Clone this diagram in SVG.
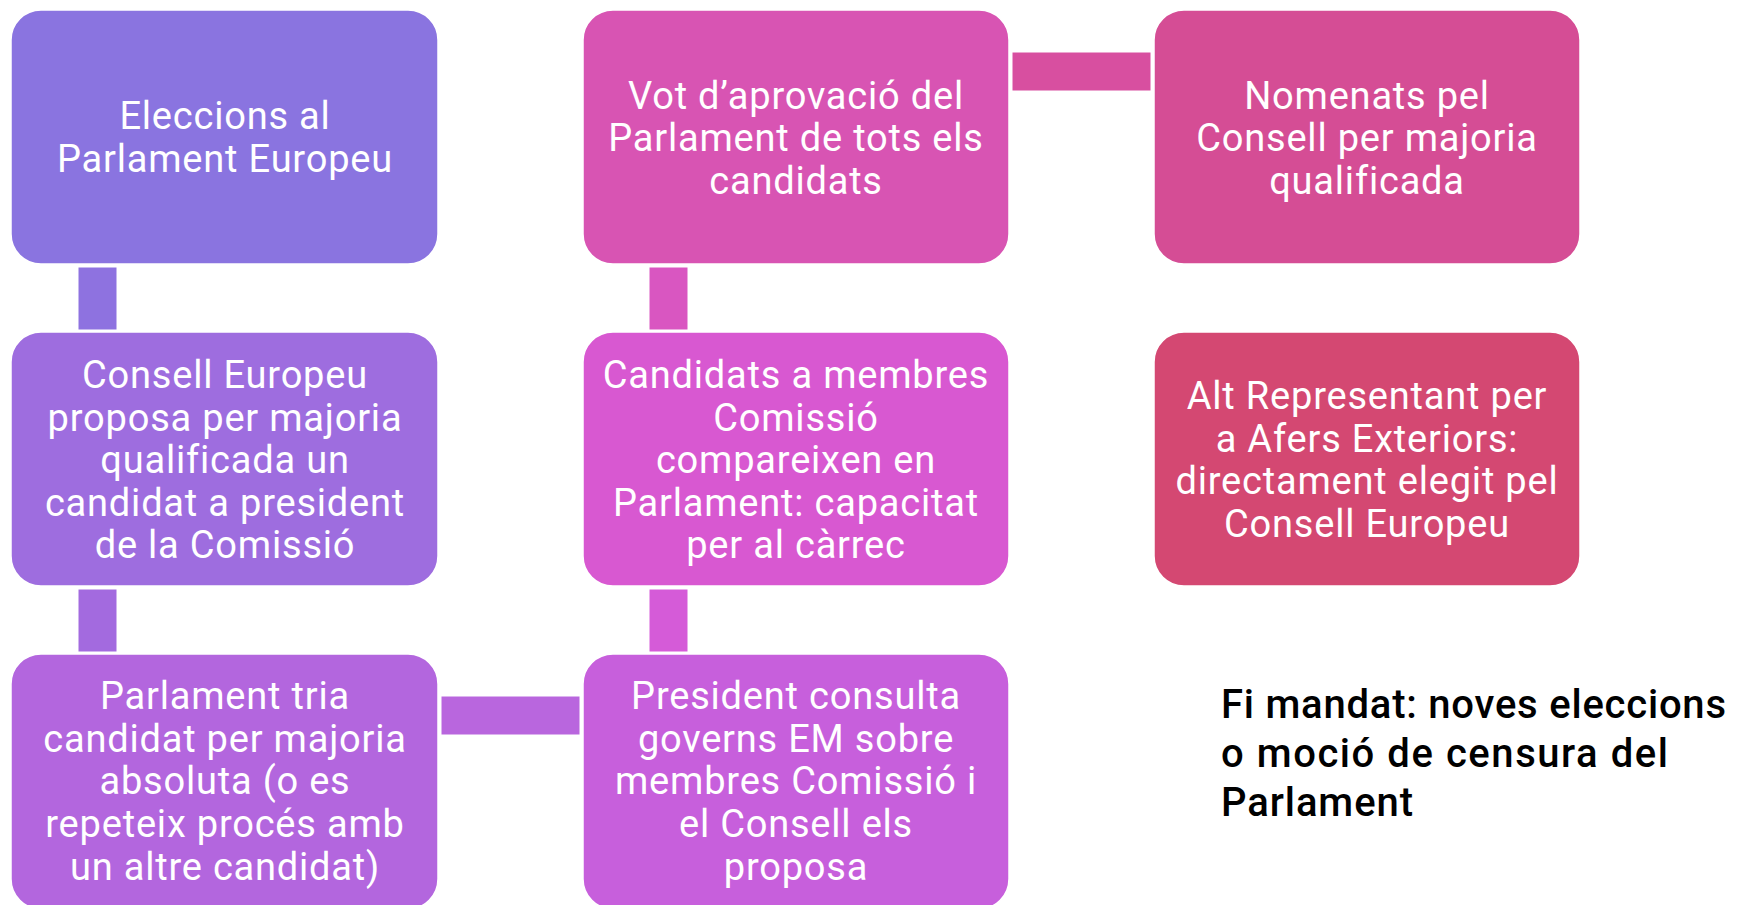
<svg xmlns="http://www.w3.org/2000/svg" width="1748" height="905" viewBox="0 0 1748 905">
<style>
.box{stroke:#ffffff;stroke-width:1.5}
.lbl{font-family:Roboto,"Liberation Sans",sans-serif;font-size:38px;fill:#ffffff;text-anchor:middle;letter-spacing:0.8px}
.note{font-family:Roboto,"Liberation Sans",sans-serif;font-size:40px;fill:#000000;font-weight:500}
.con{stroke:#ffffff;stroke-width:1}
</style>
<rect width="1748" height="905" fill="#ffffff"/>
<g id="connectors">
<rect class="con" x="78" y="267" width="39" height="63" fill="#8E72E0"/>
<rect class="con" x="78" y="589" width="39" height="63" fill="#A36ADF"/>
<rect class="con" x="441" y="696" width="139" height="39" fill="#B966DE"/>
<rect class="con" x="649" y="589" width="39" height="63" fill="#D55BD8"/>
<rect class="con" x="649" y="267" width="39" height="63" fill="#D956C1"/>
<rect class="con" x="1012" y="52" width="139" height="39" fill="#D84FA0"/>
</g>
<g id="n1">
<rect class="box" x="11" y="10" width="427" height="254" rx="30" fill="#8A74E0"/>
<text class="lbl" x="225" y="129">Eleccions al</text>
<text class="lbl" x="225" y="171.5">Parlament Europeu</text>
</g>
<g id="n2">
<rect class="box" x="11" y="332" width="427" height="254" rx="30" fill="#9E6DDF"/>
<text class="lbl" x="225" y="388">Consell Europeu</text>
<text class="lbl" x="225" y="430.5">proposa per majoria</text>
<text class="lbl" x="225" y="473">qualificada un</text>
<text class="lbl" x="225" y="515.5">candidat a president</text>
<text class="lbl" x="225" y="558">de la Comissió</text>
</g>
<g id="n3">
<rect class="box" x="11" y="654" width="427" height="255" rx="30" fill="#B366DE"/>
<text class="lbl" x="225" y="709">Parlament tria</text>
<text class="lbl" x="225" y="751.5">candidat per majoria</text>
<text class="lbl" x="225" y="794">absoluta (o es</text>
<text class="lbl" x="225" y="837">repeteix procés amb</text>
<text class="lbl" x="225" y="880">un altre candidat)</text>
</g>
<g id="n4">
<rect class="box" x="583" y="654" width="426" height="255" rx="30" fill="#C75FDC"/>
<text class="lbl" x="796" y="709">President consulta</text>
<text class="lbl" x="796" y="751.5">governs EM sobre</text>
<text class="lbl" x="796" y="794">membres Comissió i</text>
<text class="lbl" x="796" y="837">el Consell els</text>
<text class="lbl" x="796" y="880">proposa</text>
</g>
<g id="n5">
<rect class="box" x="583" y="332" width="426" height="254" rx="30" fill="#D858D1"/>
<text class="lbl" x="796" y="388">Candidats a membres</text>
<text class="lbl" x="796" y="430.5">Comissió</text>
<text class="lbl" x="796" y="473">compareixen en</text>
<text class="lbl" x="796" y="515.5">Parlament: capacitat</text>
<text class="lbl" x="796" y="558">per al càrrec</text>
</g>
<g id="n6">
<rect class="box" x="583" y="10" width="426" height="254" rx="30" fill="#D854B3"/>
<text class="lbl" x="796" y="108.5">Vot d’aprovació del</text>
<text class="lbl" x="796" y="151">Parlament de tots els</text>
<text class="lbl" x="796" y="193.5">candidats</text>
</g>
<g id="n7">
<rect class="box" x="1154" y="10" width="426" height="254" rx="30" fill="#D54D95"/>
<text class="lbl" x="1367" y="108.5">Nomenats pel</text>
<text class="lbl" x="1367" y="151">Consell per majoria</text>
<text class="lbl" x="1367" y="193.5">qualificada</text>
</g>
<g id="n8">
<rect class="box" x="1154" y="332" width="426" height="254" rx="30" fill="#D44872"/>
<text class="lbl" x="1367" y="409">Alt Representant per</text>
<text class="lbl" x="1367" y="451.5">a Afers Exteriors:</text>
<text class="lbl" x="1367" y="494">directament elegit pel</text>
<text class="lbl" x="1367" y="536.5">Consell Europeu</text>
</g>
<g id="note">
<text class="note" x="1221" y="718" textLength="505" lengthAdjust="spacing">Fi mandat: noves eleccions</text>
<text class="note" x="1221" y="767" textLength="447" lengthAdjust="spacing">o moció de censura del</text>
<text class="note" x="1221" y="816" textLength="192" lengthAdjust="spacing">Parlament</text>
</g>
</svg>
